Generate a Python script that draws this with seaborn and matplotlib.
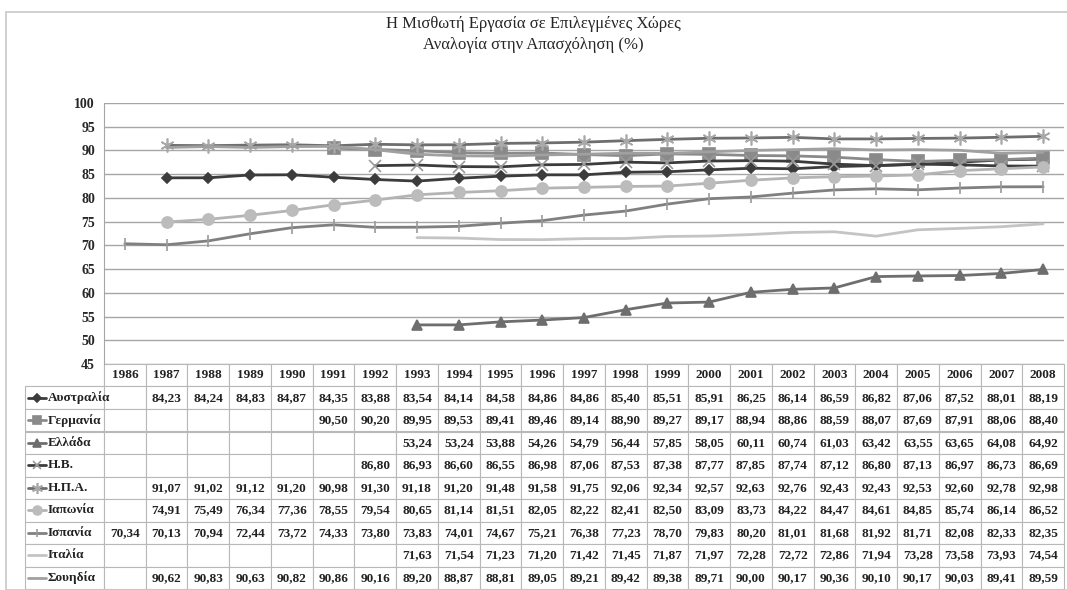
import numpy as np
import pandas as pd
import seaborn as sns
import matplotlib.pyplot as plt
from matplotlib.lines import Line2D
from matplotlib.patches import Rectangle

nan = np.nan
years = list(range(1986, 2009))

australia = [nan, 84.23, 84.24, 84.83, 84.87, 84.35, 83.88, 83.54, 84.14, 84.58, 84.86, 84.86,
             85.40, 85.51, 85.91, 86.25, 86.14, 86.59, 86.82, 87.06, 87.52, 88.01, 88.19]
germany = [nan] * 5 + [90.50, 90.20, 89.95, 89.53, 89.41, 89.46, 89.14, 88.90, 89.27, 89.17,
                       88.94, 88.86, 88.59, 88.07, 87.69, 87.91, 88.06, 88.40]
greece = [nan] * 7 + [53.24, 53.24, 53.88, 54.26, 54.79, 56.44, 57.85, 58.05, 60.11, 60.74,
                      61.03, 63.42, 63.55, 63.65, 64.08, 64.92]
uk = [nan] * 6 + [86.80, 86.93, 86.60, 86.55, 86.98, 87.06, 87.53, 87.38, 87.77, 87.85, 87.74,
                  87.12, 86.80, 87.13, 86.97, 86.73, 86.69]
usa = [nan, 91.07, 91.02, 91.12, 91.20, 90.98, 91.30, 91.18, 91.20, 91.48, 91.58, 91.75,
       92.06, 92.34, 92.57, 92.63, 92.76, 92.43, 92.43, 92.53, 92.60, 92.78, 92.98]
japan = [nan, 74.91, 75.49, 76.34, 77.36, 78.55, 79.54, 80.65, 81.14, 81.51, 82.05, 82.22,
         82.41, 82.50, 83.09, 83.73, 84.22, 84.47, 84.61, 84.85, 85.74, 86.14, 86.52]
spain = [70.34, 70.13, 70.94, 72.44, 73.72, 74.33, 73.80, 73.83, 74.01, 74.67, 75.21, 76.38,
         77.23, 78.70, 79.83, 80.20, 81.01, 81.68, 81.92, 81.71, 82.08, 82.33, 82.35]
italy = [nan] * 7 + [71.63, 71.54, 71.23, 71.20, 71.42, 71.45, 71.87, 71.97, 72.28, 72.72,
                     72.86, 71.94, 73.28, 73.58, 73.93, 74.54]
sweden = [nan, 90.62, 90.83, 90.63, 90.82, 90.86, 90.16, 89.20, 88.87, 88.81, 89.05, 89.21,
          89.42, 89.38, 89.71, 90.00, 90.17, 90.36, 90.10, 90.17, 90.03, 89.41, 89.59]

names = ["Αυστραλία", "Γερμανία", "Ελλάδα", "Η.Β.", "Η.Π.Α.", "Ιαπωνία", "Ισπανία", "Ιταλία", "Σουηδία"]
series = [australia, germany, greece, uk, usa, japan, spain, italy, sweden]

# style per series: line colour, marker, marker size, marker colour
styles = [
    ("#3c3c3c", "D", 5, "#3c3c3c"),
    ("#8a8a8a", "s", 8, "#8a8a8a"),
    ("#6e6e6e", "^", 7, "#6e6e6e"),
    ("#3c3c3c", "x", 8, "#9a9a9a"),
    ("#6e6e6e", (6, 2, 0), 10, "#a8a8a8"),
    ("#b4b4b4", "o", 8, "#bcbcbc"),
    ("#808080", "|", 8, "#9a9a9a"),
    ("#c4c4c4", None, 0, "#c4c4c4"),
    ("#a0a0a0", None, 0, "#a0a0a0"),
]

sns.set_style("white")
plt.rcParams['font.family'] = ['Liberation Serif', 'DejaVu Serif']

fig = plt.figure(figsize=(10.67, 5.9), dpi=100)
ax = fig.add_axes([104 / 1067, 1 - 364 / 590, 960 / 1067, 261 / 590])

xs = np.arange(len(years))
for name, vals, (col, mk, ms, mcol) in zip(names, series, styles):
    df = pd.DataFrame({"x": xs, "y": vals}).dropna()
    sns.lineplot(data=df, x="x", y="y", ax=ax, color=col, lw=2, marker=mk, markersize=ms,
                 markeredgecolor=mcol, markerfacecolor=mcol, markeredgewidth=1.2, zorder=3)

ax.set_xlim(-0.5, len(years) - 0.5)
ax.set_ylim(45, 100)
ax.set_yticks(range(45, 101, 5))
ax.set_xticks([])
ax.set_xlabel("")
ax.set_ylabel("")
ax.grid(axis="y", color="#a6a6a6", lw=1)
for s in ["top", "right", "bottom"]:
    ax.spines[s].set_visible(False)
ax.spines["left"].set_color("#a6a6a6")
ax.tick_params(axis="y", length=3, color="#a6a6a6", labelsize=10)
for t in ax.get_yticklabels():
    t.set_fontweight("bold")

# data table under the plot
L = (104 - 25) / 960
nrow = len(names) + 1
tab_h = (589 - 364) / 261
cells = []
for vals in series:
    cells.append([""] + ["" if np.isnan(v) else f"{v:.2f}".replace(".", ",") for v in vals])
tbl = ax.table(cellText=cells, colLabels=[""] + [str(y) for y in years],
               colWidths=[L] + [1 / len(years)] * len(years), cellLoc="center",
               bbox=[-L, -tab_h, 1 + L, tab_h])
tbl.auto_set_font_size(False)
tbl.set_fontsize(9.5)
for (r, c), cell in tbl.get_celld().items():
    cell.set_edgecolor("#b8b8b8")
    cell.set_linewidth(0.8)
    cell.get_text().set_fontweight("bold")
    cell.get_text().set_color("#222222")
tbl[(0, 0)].visible_edges = "BR"

rowh = tab_h / nrow
for i, (name, (col, mk, ms, mcol)) in enumerate(zip(names, styles)):
    yc = -(i + 1.5) * rowh
    ax.add_line(Line2D([-L + 0.003, -L + 0.022], [yc, yc], transform=ax.transAxes, clip_on=False,
                       color=col, lw=2))
    if mk is not None:
        ax.add_line(Line2D([-L + 0.0125], [yc], transform=ax.transAxes, clip_on=False,
                           marker=mk, markersize=ms * 0.8, color=mcol, markeredgewidth=1.2))
    ax.text(-L + 0.024, yc, name, transform=ax.transAxes, va="center", ha="left",
            fontsize=9.5, fontweight="bold", color="#222222")

fig.text(0.5, 1 - 24 / 590, "Η Μισθωτή Εργασία σε Επιλεγμένες Χώρες", ha="center", va="center",
         fontsize=12)
fig.text(0.5, 1 - 45 / 590, "Αναλογία στην Απασχόληση (%)", ha="center", va="center",
         fontsize=12)

fig.patches.append(Rectangle((6 / 1067, 0), 1, 1 - 12 / 590, transform=fig.transFigure,
                             fill=False, edgecolor="#c8c8c8", lw=1.2))

fig.savefig("out.png", dpi=100)
